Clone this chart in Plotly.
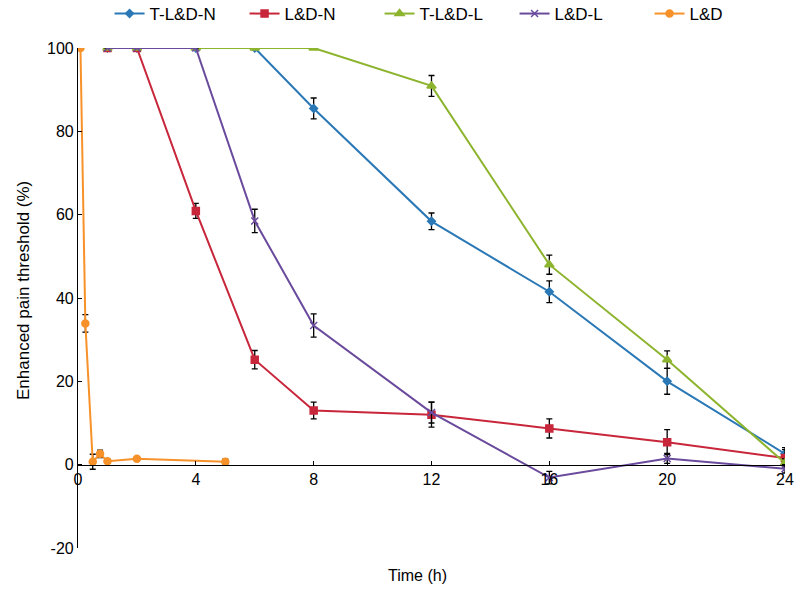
import plotly.graph_objects as go

# ---- data ----
t_n_x = [1, 2, 4, 6, 8, 12, 16, 20, 24]
t_n_y = [100, 100, 100, 100, 85.5, 58.4, 41.5, 20.0, 2.6]
t_n_e = [0, 0, 0, 0, 2.5, 2.0, 2.6, 3.1, 1.5]

n_x = [1, 2, 4, 6, 8, 12, 16, 20, 24]
n_y = [100, 100, 60.9, 25.2, 13.0, 12.0, 8.7, 5.4, 1.6]
n_e = [0, 0, 1.8, 2.2, 2.0, 3.0, 2.3, 3.0, 2.0]

t_l_x = [1, 2, 4, 6, 8, 12, 16, 20, 24]
t_l_y = [100, 100, 100, 100, 100, 90.9, 48.0, 25.2, 0.4]
t_l_e = [0, 0, 0, 0, 0, 2.5, 2.3, 2.1, 1.0]

l_x = [1, 2, 4, 6, 8, 12, 16, 20, 24]
l_y = [100, 100, 100, 58.5, 33.4, 12.5, -3.1, 1.5, -1.0]
l_e = [0, 0, 0, 2.8, 2.8, 2.5, 1.5, 1.2, 1.0]

ld_x = [0.083, 0.25, 0.5, 0.75, 1, 2, 5]
ld_y = [100, 33.9, 0.7, 2.6, 0.8, 1.4, 0.7]
ld_e = [0, 2.1, 1.8, 0.9, 0.5, 0.5, 0.6]

x_ticks = [0, 4, 8, 12, 16, 20, 24]
y_ticks = [-20, 0, 20, 40, 60, 80, 100]

series = [
    ("T-L&D-N", t_n_x, t_n_y, t_n_e, "#2a78b6", "diamond", 6),
    ("L&D-N", n_x, n_y, n_e, "#c8263a", "square", 7),
    ("T-L&D-L", t_l_x, t_l_y, t_l_e, "#8db42e", "triangle-up", 8),
    ("L&D-L", l_x, l_y, l_e, "#6a4a9c", "x-thin", 7),
    ("L&D", ld_x, ld_y, ld_e, "#f7922a", "circle", 7),
]

FONT = "Liberation Sans, Arial, sans-serif"

fig = go.Figure()
for name, xs, ys, es, col, sym, sz in series:
    fig.add_trace(go.Scatter(
        x=xs, y=ys, name=name, mode="lines+markers",
        line=dict(color=col, width=2),
        marker=dict(symbol=sym, size=sz, color=col,
                    line=dict(color=col, width=1.5)),
        error_y=dict(type="data", array=es, visible=True,
                     color="black", thickness=1.3, width=3),
    ))

fig.update_layout(
    width=800, height=589,
    margin=dict(l=78, r=15, t=48, b=41, autoexpand=False),
    paper_bgcolor="white", plot_bgcolor="white",
    font=dict(family=FONT, size=16, color="black"),
    showlegend=True,
    legend=dict(orientation="h", x=0.522, xref="paper", xanchor="center",
                y=1.068, yref="paper", yanchor="middle",
                font=dict(size=17, family=FONT),
                entrywidth=90, itemwidth=30, bgcolor="rgba(0,0,0,0)"),
    xaxis=dict(range=[0, 24], tickvals=x_ticks, ticktext=[str(v) for v in x_ticks],
               showline=True, linecolor="black", linewidth=1.2,
               ticks="inside", ticklen=4, tickcolor="black",
               showgrid=False, zeroline=False,
               tickfont=dict(size=16),
               anchor="free", position=20/120),
    yaxis=dict(range=[-20, 100], tickvals=y_ticks, ticktext=[str(v) for v in y_ticks],
               showline=True, linecolor="black", linewidth=1.2,
               ticks="inside", ticklen=4, tickcolor="black",
               showgrid=False, zeroline=False,
               tickfont=dict(size=16)),
    annotations=[
        dict(text="Time (h)", x=(417 - 78) / 707, xref="paper", y=-0.054, yref="paper",
             yanchor="middle", xanchor="center", showarrow=False, font=dict(size=16)),
        dict(text="Enhanced pain threshold (%)", textangle=-90,
             x=(23 - 78) / 707, xref="paper", y=0.514, yref="paper",
             xanchor="center", yanchor="middle", showarrow=False, font=dict(size=17)),
    ],
)

fig.write_html("out.html",
               config={"displayModeBar": False},
               post_script="document.body.style.margin='0';document.body.style.padding='0';")
